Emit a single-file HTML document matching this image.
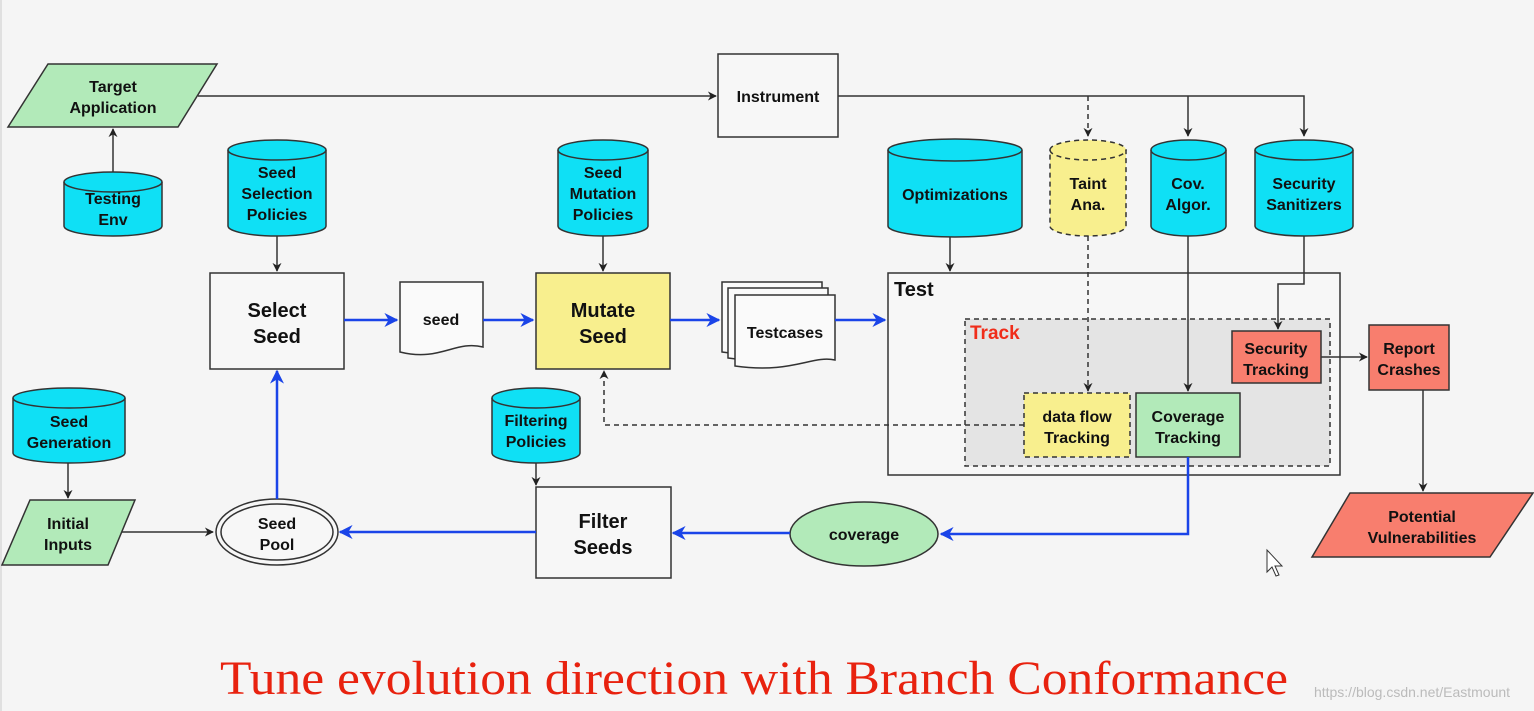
<!DOCTYPE html>
<html><head><meta charset="utf-8"><style>
html,body{margin:0;padding:0;background:#f5f5f5;}
svg{display:block}
text{font-family:"Liberation Sans",Arial,sans-serif;font-weight:bold;fill:#111;text-anchor:middle}
</style></head><body>
<svg width="1534" height="711" viewBox="0 0 1534 711" xmlns="http://www.w3.org/2000/svg">
<defs>
<marker id="a" viewBox="0 0 10 10" refX="9" refY="5" markerWidth="9" markerHeight="9" orient="auto-start-reverse" markerUnits="userSpaceOnUse"><path d="M0,0 L10,5 L0,10 L3,5 z" fill="#222"/></marker>
<marker id="b" viewBox="0 0 10 10" refX="9" refY="5" markerWidth="14" markerHeight="14" orient="auto-start-reverse" markerUnits="userSpaceOnUse"><path d="M0,0 L10,5 L0,10 L3,5 z" fill="#1a44e8"/></marker>
</defs>
<rect width="1534" height="711" fill="#f5f5f5"/>
<line x1="1" y1="0" x2="1" y2="711" stroke="#ccc"/>

<!-- shapes -->
<g stroke="#333" stroke-width="1.5">
<polygon points="48,64 217,64 178,127 8,127" fill="#b2eab9"/>
<rect x="718" y="54" width="120" height="83" fill="#f7f7f7"/>
<rect x="210" y="273" width="134" height="96" fill="#f7f7f7"/>
<rect x="536" y="273" width="134" height="96" fill="#f8ef8e"/>
<path d="M400,282 H483 V347 C455,340 440,362 400,352 Z" fill="#fafafa"/>
<path d="M722,282 H822 V345 C800,340 780,360 722,352 Z" fill="#fafafa"/>
<path d="M728,288 H828 V352 C806,347 786,366 728,358 Z" fill="#fafafa"/>
<path d="M735,295 H835 V360 C812,355 792,374 735,366 Z" fill="#fafafa"/>
<rect x="888" y="273" width="452" height="202" fill="#f7f7f7"/>
<rect x="965" y="319" width="365" height="147" fill="#e4e4e4" stroke-dasharray="5,4"/>
<polygon points="1350,493 1533,493 1490,557 1312,557" fill="#f87e6e"/>
<rect x="536" y="487" width="135" height="91" fill="#f7f7f7"/>
<ellipse cx="864" cy="534" rx="74" ry="32" fill="#b2eab9"/>
<ellipse cx="277" cy="532" rx="61" ry="33" fill="#f7f7f7"/>
<ellipse cx="277" cy="532" rx="56" ry="28" fill="none"/>
<polygon points="30,500 135,500 108,565 2,565" fill="#b2eab9"/>
</g>

<!-- black connectors -->
<g stroke="#333" stroke-width="1.5" fill="none">
<line x1="198" y1="96" x2="716" y2="96" marker-end="url(#a)"/>
<line x1="113" y1="172" x2="113" y2="129" marker-end="url(#a)"/>
<polyline points="838,96 1304,96 1304,136" marker-end="url(#a)"/>
<line x1="1188" y1="96" x2="1188" y2="136" marker-end="url(#a)"/>
<line x1="1088" y1="96" x2="1088" y2="136" stroke-dasharray="5,4" marker-end="url(#a)"/>
<line x1="277" y1="236" x2="277" y2="271" marker-end="url(#a)"/>
<line x1="603" y1="236" x2="603" y2="271" marker-end="url(#a)"/>
<line x1="950" y1="236" x2="950" y2="271" marker-end="url(#a)"/>
<line x1="1088" y1="236" x2="1088" y2="391" stroke-dasharray="5,4" marker-end="url(#a)"/>
<line x1="1188" y1="236" x2="1188" y2="391" marker-end="url(#a)"/>
<polyline points="1304,236 1304,284 1278,284 1278,329" marker-end="url(#a)"/>
<line x1="1321" y1="357" x2="1367" y2="357" marker-end="url(#a)"/>
<line x1="1423" y1="390" x2="1423" y2="491" marker-end="url(#a)"/>
<polyline points="1024,425 604,425 604,371" stroke-dasharray="5,4" marker-end="url(#a)"/>
<line x1="68" y1="463" x2="68" y2="498" marker-end="url(#a)"/>
<line x1="536" y1="463" x2="536" y2="485" marker-end="url(#a)"/>
<line x1="122" y1="532" x2="213" y2="532" marker-end="url(#a)"/>
</g>

<g stroke="#333" stroke-width="1.5">
<rect x="1232" y="331" width="89" height="52" fill="#f87e6e"/>
<rect x="1369" y="325" width="80" height="65" fill="#f87e6e"/>
<rect x="1024" y="393" width="106" height="64" fill="#f8ef8e" stroke-dasharray="5,4"/>
<rect x="1136" y="393" width="104" height="64" fill="#b2eab9"/>
</g>

<!-- cylinders -->
<g stroke="#333" stroke-width="1.5" fill="#0fe0f5">
<path d="M64,182 A49,10 0 0 1 162,182 V226 A49,10 0 0 1 64,226 Z"/><path d="M64,182 A49,10 0 0 0 162,182" fill="none"/>
<path d="M228,150 A49,10 0 0 1 326,150 V226 A49,10 0 0 1 228,226 Z"/><path d="M228,150 A49,10 0 0 0 326,150" fill="none"/>
<path d="M558,150 A45,10 0 0 1 648,150 V226 A45,10 0 0 1 558,226 Z"/><path d="M558,150 A45,10 0 0 0 648,150" fill="none"/>
<path d="M888,150 A67,11 0 0 1 1022,150 V226 A67,11 0 0 1 888,226 Z"/><path d="M888,150 A67,11 0 0 0 1022,150" fill="none"/>
<path d="M1050,150 A38,10 0 0 1 1126,150 V226 A38,10 0 0 1 1050,226 Z" fill="#f8ef8e" stroke-dasharray="5,4"/><path d="M1050,150 A38,10 0 0 0 1126,150" fill="none" stroke-dasharray="5,4"/>
<path d="M1151,150 A37.5,10 0 0 1 1226,150 V226 A37.5,10 0 0 1 1151,226 Z"/><path d="M1151,150 A37.5,10 0 0 0 1226,150" fill="none"/>
<path d="M1255,150 A49,10 0 0 1 1353,150 V226 A49,10 0 0 1 1255,226 Z"/><path d="M1255,150 A49,10 0 0 0 1353,150" fill="none"/>
<path d="M13,398 A56,10 0 0 1 125,398 V453 A56,10 0 0 1 13,453 Z"/><path d="M13,398 A56,10 0 0 0 125,398" fill="none"/>
<path d="M492,398 A44,10 0 0 1 580,398 V453 A44,10 0 0 1 492,453 Z"/><path d="M492,398 A44,10 0 0 0 580,398" fill="none"/>
</g>

<!-- blue connectors -->
<g stroke="#1a44e8" stroke-width="2.5" fill="none">
<line x1="344" y1="320" x2="397" y2="320" marker-end="url(#b)"/>
<line x1="483" y1="320" x2="533" y2="320" marker-end="url(#b)"/>
<line x1="670" y1="320" x2="719" y2="320" marker-end="url(#b)"/>
<line x1="835" y1="320" x2="885" y2="320" marker-end="url(#b)"/>
<polyline points="1188,457 1188,534 941,534" marker-end="url(#b)"/>
<line x1="790" y1="533" x2="673" y2="533" marker-end="url(#b)"/>
<line x1="536" y1="532" x2="340" y2="532" marker-end="url(#b)"/>
<line x1="277" y1="499" x2="277" y2="371" marker-end="url(#b)"/>
</g>

<!-- labels -->
<g font-size="16">
<text x="113" y="92">Target</text><text x="113" y="113">Application</text>
<text x="113" y="204">Testing</text><text x="113" y="225">Env</text>
<text x="778" y="102">Instrument</text>
<text x="277" y="178">Seed</text><text x="277" y="199">Selection</text><text x="277" y="220">Policies</text>
<text x="603" y="178">Seed</text><text x="603" y="199">Mutation</text><text x="603" y="220">Policies</text>
<text x="955" y="200">Optimizations</text>
<text x="1088" y="189">Taint</text><text x="1088" y="210">Ana.</text>
<text x="1188" y="189">Cov.</text><text x="1188" y="210">Algor.</text>
<text x="1304" y="189">Security</text><text x="1304" y="210">Sanitizers</text>
<text x="441" y="325">seed</text>
<text x="785" y="338">Testcases</text>
<text x="1276" y="354">Security</text><text x="1276" y="375">Tracking</text>
<text x="1409" y="354">Report</text><text x="1409" y="375">Crashes</text>
<text x="1077" y="422">data flow</text><text x="1077" y="443">Tracking</text>
<text x="1188" y="422">Coverage</text><text x="1188" y="443">Tracking</text>
<text x="1422" y="522">Potential</text><text x="1422" y="543">Vulnerabilities</text>
<text x="69" y="427">Seed</text><text x="69" y="448">Generation</text>
<text x="536" y="426">Filtering</text><text x="536" y="447">Policies</text>
<text x="68" y="529">Initial</text><text x="68" y="550">Inputs</text>
<text x="277" y="529">Seed</text><text x="277" y="550">Pool</text>
<text x="864" y="540">coverage</text>
</g>
<g font-size="20">
<text x="277" y="317">Select</text><text x="277" y="343">Seed</text>
<text x="603" y="317">Mutate</text><text x="603" y="343">Seed</text>
<text x="603" y="528">Filter</text><text x="603" y="554">Seeds</text>
<text x="894" y="296" style="text-anchor:start">Test</text>
</g>
<text x="970" y="339" font-size="19" style="text-anchor:start;fill:#f02d1a">Track</text>
<text x="220" y="694" textLength="1068" lengthAdjust="spacingAndGlyphs" style="text-anchor:start;font-family:'Liberation Serif',serif;font-weight:normal;fill:#e8220f;font-size:48px">Tune evolution  direction with Branch Conformance</text>
<text x="1412" y="697" style="font-weight:normal;fill:#bbb;font-size:14px">https://blog.csdn.net/Eastmount</text>
<path d="M1267,550 L1267,572 L1272,567 L1276,576 L1279,575 L1275,566 L1282,566 Z" fill="#fff" stroke="#333"/>
</svg>
</body></html>
